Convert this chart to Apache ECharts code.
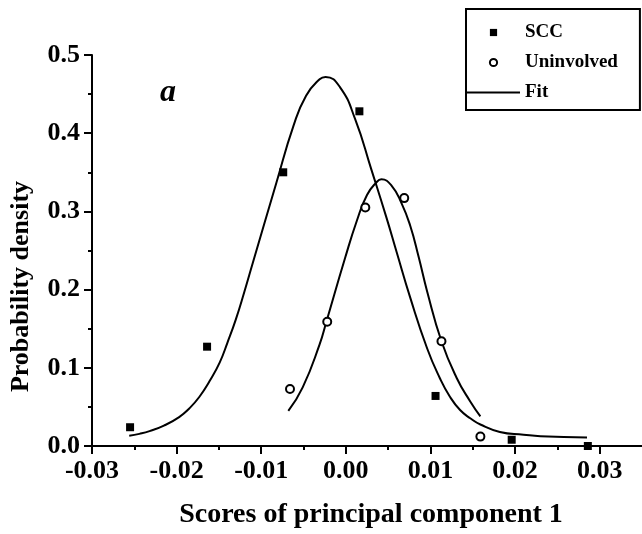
<!DOCTYPE html>
<html>
<head>
<meta charset="utf-8">
<script src="https://cdn.jsdelivr.net/npm/echarts@6/dist/echarts.min.js"></script>
<style>html,body{margin:0;padding:0;background:#fff}#c{width:642px;height:534px}</style>
</head>
<body>
<div id="c"></div>
<script>
// Measured points
const sccX = [-0.0255, -0.0164, -0.0074, 0.0016, 0.0106, 0.0196, 0.0286];
const sccY = [0.024, 0.127, 0.350, 0.428, 0.064, 0.008, 0.000];
const uninX = [-0.0066, -0.0022, 0.0023, 0.0069, 0.0113, 0.0159];
const uninY = [0.073, 0.159, 0.305, 0.317, 0.134, 0.012];
// Fit curves
const fitSccX = [-0.0256, -0.0244, -0.0232, -0.0215, -0.0197, -0.0185, -0.0173, -0.0161, -0.0149, -0.0140, -0.0130, -0.0120, -0.0110, -0.0082, -0.0062, -0.0047, -0.0031, -0.0024, -0.0007, 0.0011, 0.0030, 0.0048, 0.0060, 0.0076, 0.0096, 0.0111, 0.0123, 0.0135, 0.0147, 0.0159, 0.0182, 0.0210, 0.0230, 0.0285];
const fitSccY = [0.013, 0.0155, 0.019, 0.026, 0.037, 0.048, 0.063, 0.083, 0.107, 0.132, 0.162, 0.197, 0.234, 0.337, 0.409, 0.448, 0.469, 0.472, 0.459, 0.418, 0.354, 0.292, 0.248, 0.190, 0.125, 0.087, 0.063, 0.046, 0.0355, 0.0275, 0.018, 0.0145, 0.0125, 0.011];
const fitUninX = [-0.0068, -0.0051, -0.0031, -0.0023, -0.0001, 0.0013, 0.0025, 0.0036, 0.0042, 0.0054, 0.0066, 0.0076, 0.0086, 0.0096, 0.0113, 0.0131, 0.0147, 0.0159];
const fitUninY = [0.045, 0.075, 0.130, 0.159, 0.240, 0.288, 0.321, 0.337, 0.341, 0.333, 0.310, 0.282, 0.242, 0.198, 0.134, 0.087, 0.057, 0.038];
// Tick values
const xMajorTicks = [-0.03, -0.02, -0.01, 0.00, 0.01, 0.02, 0.03];
const xMinorTicks = [-0.025, -0.015, -0.005, 0.005, 0.015, 0.025];
const legendNames = ['SCC', 'Uninvolved', 'Fit'];
const xAxisTitle = 'Scores of principal component 1';
const yAxisTitle = 'Probability density';
const panelLabel = 'a';

const zip = (xs, ys) => xs.map((x, i) => [x, ys[i]]);
const FONT = "'Liberation Serif', 'Times New Roman', serif";
const X_MIN = -0.03, X_MAX = 0.035;

const chart = echarts.init(document.getElementById('c'), null, {renderer: 'canvas'});
const labelFont = {fontFamily: FONT, fontWeight: 'bold', fontSize: 26, color: '#000'};
chart.setOption({
  animation: false,
  backgroundColor: '#fff',
  title: {
    text: panelLabel, left: 160, top: 77, padding: 0,
    textStyle: {fontFamily: FONT, fontStyle: 'italic', fontWeight: 'bold', fontSize: 32, color: '#000'}
  },
  legend: {
    data: [
      {name: legendNames[0]},
      {name: legendNames[1]},
      {name: legendNames[2], itemStyle: {opacity: 0}}
    ],
    orient: 'vertical', left: 466, top: 9,
    itemWidth: 53, itemHeight: 9, itemGap: 11,
    padding: [14, 22, 8, 0],
    borderColor: '#000', borderWidth: 2,
    textStyle: {fontFamily: FONT, fontWeight: 'bold', fontSize: 19, color: '#000'}
  },
  grid: {left: 92, right: 0, top: 55, bottom: 85, containLabel: false},
  xAxis: [
    {
      type: 'value', min: X_MIN, max: X_MAX, position: 'bottom',
      name: xAxisTitle, nameLocation: 'middle', nameGap: 55,
      nameTextStyle: {fontFamily: FONT, fontWeight: 'bold', fontSize: 28, color: '#000', padding: [0, 0, 0, 8]},
      axisLine: {show: true, onZero: false, lineStyle: {color: '#000', width: 2}},
      axisTick: {show: true, customValues: xMajorTicks, length: 8, lineStyle: {color: '#000', width: 2}},
      axisLabel: Object.assign({margin: 12, customValues: xMajorTicks, formatter: v => v.toFixed(2)}, labelFont),
      splitLine: {show: false}
    },
    {
      type: 'value', min: X_MIN, max: X_MAX, position: 'bottom', offset: 0,
      axisLine: {show: false, onZero: false},
      axisTick: {show: true, customValues: xMinorTicks, length: 4, lineStyle: {color: '#000', width: 2}},
      axisLabel: {show: false},
      splitLine: {show: false}
    }
  ],
  yAxis: {
    type: 'value', min: 0, max: 0.5, interval: 0.1,
    name: yAxisTitle, nameLocation: 'middle', nameGap: 58,
    nameTextStyle: {fontFamily: FONT, fontWeight: 'bold', fontSize: 26, color: '#000', padding: [0, 72, 0, 0]},
    axisLine: {show: true, onZero: false, lineStyle: {color: '#000', width: 2}},
    axisTick: {show: true, length: 8, lineStyle: {color: '#000', width: 2}},
    minorTick: {show: true, splitNumber: 2, length: 4, lineStyle: {color: '#000', width: 2}},
    axisLabel: Object.assign({margin: 12, formatter: v => v.toFixed(1)}, labelFont),
    splitLine: {show: false},
    minorSplitLine: {show: false}
  },
  series: [
    {
      name: legendNames[2], type: 'line', data: zip(fitSccX, fitSccY),
      symbol: 'none', smooth: 0.5,
      lineStyle: {color: '#000', width: 2}, itemStyle: {color: '#000'}, z: 2
    },
    {
      name: legendNames[2], type: 'line', data: zip(fitUninX, fitUninY),
      symbol: 'none', smooth: 0.5,
      lineStyle: {color: '#000', width: 2}, itemStyle: {color: '#000'}, z: 2
    },
    {
      name: legendNames[0], type: 'line', data: zip(sccX, sccY),
      symbol: 'rect', symbolSize: 8, showSymbol: true,
      lineStyle: {width: 0, opacity: 0}, itemStyle: {color: '#000'}, z: 3
    },
    {
      name: legendNames[1], type: 'line', data: zip(uninX, uninY),
      symbol: 'emptyCircle', symbolSize: 8, showSymbol: true,
      lineStyle: {width: 0, opacity: 0}, itemStyle: {color: '#000', borderWidth: 1.5}, z: 3
    }
  ]
});
</script>
</body>
</html>
